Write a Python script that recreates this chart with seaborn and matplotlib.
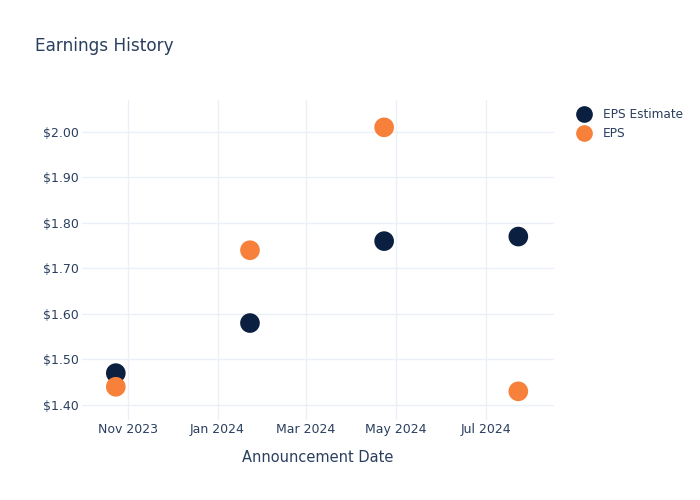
import matplotlib
matplotlib.use("Agg")
import matplotlib.pyplot as plt
import matplotlib.dates as mdates
import matplotlib.ticker as mticker
import seaborn as sns
import pandas as pd

dates = ["2023-10-24", "2024-01-23", "2024-04-23", "2024-07-23"]
eps_estimate = [1.47, 1.58, 1.76, 1.77]
eps_actual = [1.44, 1.74, 2.01, 1.43]
series_names = ["EPS Estimate", "EPS"]
colors = ["#0b1f41", "#f7803a"]

df = pd.DataFrame({
    "date": pd.to_datetime(dates * 2),
    "value": eps_estimate + eps_actual,
    "series": [series_names[0]] * len(dates) + [series_names[1]] * len(dates),
})

sns.set_theme(style="white")
text_color = "#2a3f5f"
plt.rcParams["font.family"] = ["DejaVu Sans"]

fig = plt.figure(figsize=(7, 5), dpi=100)
ax = fig.add_axes([0.117, 0.16, 0.674, 0.64])

sns.scatterplot(data=df, x="date", y="value", hue="series", hue_order=series_names,
                palette=colors, s=200, edgecolor="none", ax=ax, zorder=3, legend=True)

ax.set_xlim(pd.Timestamp("2023-10-01"), pd.Timestamp("2024-08-16"))
ax.set_ylim(1.367, 2.07)
ax.xaxis.set_major_locator(mdates.MonthLocator(bymonth=[1, 3, 5, 7, 11]))
ax.xaxis.set_major_formatter(mdates.DateFormatter("%b %Y"))
ax.yaxis.set_major_locator(mticker.MultipleLocator(0.1))
ax.yaxis.set_major_formatter(mticker.FuncFormatter(lambda v, p: f"${v:.2f}"))

ax.grid(True, color="#ebf0f8", linewidth=1)
ax.set_axisbelow(True)
for sp in ax.spines.values():
    sp.set_visible(False)
ax.tick_params(axis="both", length=0, labelsize=9, colors=text_color, pad=2)
ax.set_xlabel("Announcement Date", fontsize=10.5, color=text_color, labelpad=10)
ax.set_ylabel("")

handles, labels = ax.get_legend_handles_labels()
ax.legend(handles, labels, loc="upper left", bbox_to_anchor=(1.028, 0.99), frameon=False,
          fontsize=8.7, labelcolor=text_color, handletextpad=0.6, borderaxespad=0,
          markerscale=0.85)

fig.text(0.05, 0.898, "Earnings History", fontsize=12.2, color=text_color, va="baseline")

fig.savefig("out.png", dpi=100)
